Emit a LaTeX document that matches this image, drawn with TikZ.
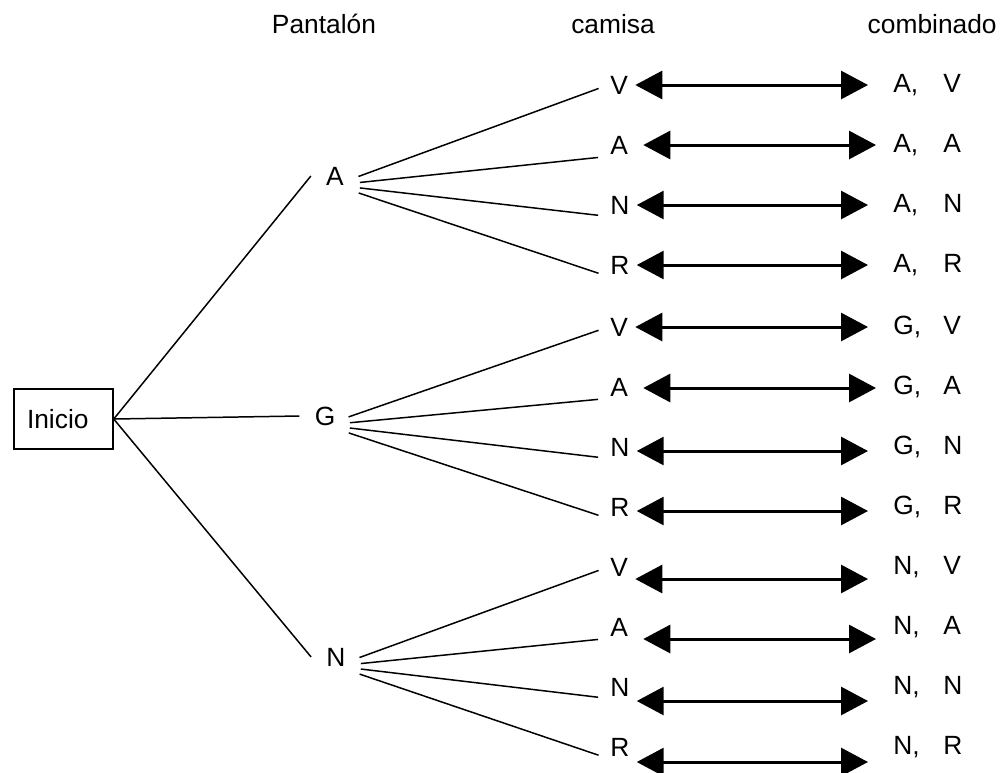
\documentclass[tikz,border=0pt]{standalone}
\usepackage{fontspec}
\setmainfont{Liberation Sans}
\usetikzlibrary{arrows.meta}
\tikzset{
  basetext/.style={font=\fontsize{15}{18}\selectfont},
  inibox/.style={basetext,rectangle,draw,line width=0.85pt,inner xsep=0.26cm,
                 text width=1.46cm,align=left,minimum height=1.2cm},
  headnode/.style={basetext,anchor=base,inner sep=0pt},
  pantnode/.style={basetext,inner sep=0.3cm},
  camnode/.style={basetext,anchor=west,inner sep=0.04cm},
  combnode/.style={basetext,anchor=west,inner sep=0.04cm},
  branch/.style={line width=0.85pt},
  dblarr/.style={{Triangle[length=0.54cm,width=0.56cm]}-{Triangle[length=0.54cm,width=0.56cm]},
                 line width=1.7pt}
}

\begin{document}
\begin{tikzpicture}[x=0.02cm,y=-0.02cm]
  \useasboundingbox (0,0) rectangle (1000,772);
  % column titles
  \node[headnode] (hPant) at (324,33) {Pantalón};
  \node[headnode] (hCam) at (613,33) {camisa};
  \node[headnode,anchor=base east] (hComb) at (997,33) {combinado};
  % start
  \node[inibox] (ini) at (63.5,419) {Inicio};
  % trousers
  \node[pantnode] (pA) at (335,176) {A};
  \node[pantnode] (pG) at (325,416) {G};
  \node[pantnode] (pN) at (336,657) {N};
  \foreach \p in {pA,pG,pN}
    \draw[branch] (ini.east) -- (\p.west);
  % shirts, combinations
  \foreach \pt/\cam/\y/\dy/\sl/\sr/\anc [count=\i] in {
      A/V/85/0/0.1/0.46/west, A/A/145/0/0.26/0.3/south west,
      A/N/205/0/0.1/0.46/south west, A/R/265/0/0.1/0.46/south west,
      G/V/327/0/0.1/0.46/west, G/A/387/-0.02/0.26/0.3/south west,
      G/N/447/-0.08/0.1/0.46/south west, G/R/507/-0.08/0.1/0.46/south west,
      N/V/567/-0.24/0.1/0.46/west, N/A/627/-0.24/0.26/0.3/south west,
      N/N/687/-0.28/0.1/0.46/south west, N/R/747/-0.3/0.1/0.46/south west}{
    \node[camnode] (c\i) at (608,\y) {\cam};
    \node[combnode] (k\i) at (891,\y) {\makebox[1cm][l]{\pt,}\cam};
    \draw[branch,shorten <=0.5cm,shorten >=0.2cm] (p\pt.base) -- (c\i.\anc);
    \draw[dblarr,shorten <=\sl cm,shorten >=\sr cm]
      ([yshift=\dy cm]c\i.east) -- ([yshift=\dy cm]k\i.west);
  }
\end{tikzpicture}
\end{document}
